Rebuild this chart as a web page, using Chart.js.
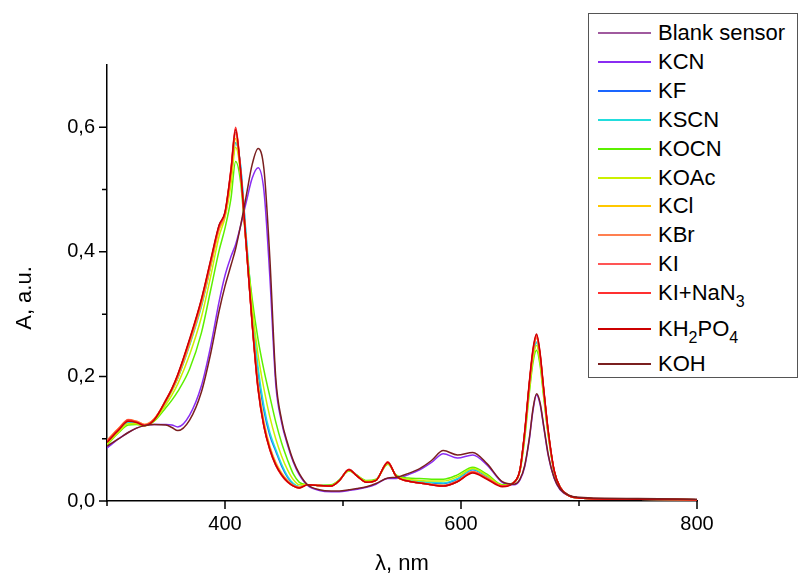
<!DOCTYPE html>
<html lang="en">
<head>
<meta charset="UTF-8">
<title>Absorption spectra</title>
<script src="https://cdn.jsdelivr.net/npm/chart.js"></script>
<style>
    body { margin: 0; background: #fff; }
    .janela { position: relative; width: 798px; height: 579px; }
    .legenda {
        position: absolute; left: 588px; top: 13px; width: 210px; height: 365px;
        border: 1px solid #555; box-sizing: border-box; background: #fff;
        font-family: "Liberation Sans", Arial, sans-serif; font-size: 22px; color: #000;
    }
    .linha { position: absolute; left: 0; width: 100%; height: 28px; line-height: 28px; }
    .amostra { position: absolute; left: 9px; top: 13px; width: 53px; height: 2px; }
    .nome { position: absolute; left: 69px; top: 0; white-space: nowrap; }
    .nome sub { font-size: 16px; vertical-align: -7px; line-height: 0; }
</style>
</head>
<body>
<div class="janela">
    <canvas id="myChart" width="798" height="579"></canvas>
    <div class="legenda" id="legenda"></div>
</div>

<script>
    // comprimentos de onda (nm)
    const wl = [300, 310, 318, 325, 332, 340, 350, 355, 360, 370,
        380, 388, 395, 400, 405, 409, 413, 418, 423, 428,
        433, 438, 443, 448, 453, 458, 463, 470, 480, 490,
        497, 505, 512, 520, 528, 538, 545, 555, 565, 575,
        585, 597, 610, 622, 635, 645, 650, 654, 658, 661,
        664, 667, 670, 674, 679, 684, 692, 700, 750, 800];

    const blankSensor = [.094, .114, .128, .126, .122, .131, .161, .179, .201, .256,
        .320, .383, .440, .461, .527, .592, .532, .410, .287, .183,
        .122, .085, .059, .043, .032, .025, .022, .026, .025, .024,
        .033, .050, .040, .030, .033, .062, .040, .032, .029, .026,
        .025, .032, .047, .037, .024, .030, .050, .109, .188, .238,
        .262, .233, .178, .109, .048, .022, .008, .005, .003, .002];

    const kcn = [.085, .100, .110, .117, .121, .123, .123, .122, .119, .138,
        .185, .250, .320, .362, .392, .412, .440, .480, .518, .535,
        .498, .360, .188, .126, .090, .062, .042, .025, .017, .015,
        .015, .017, .019, .022, .027, .036, .036, .042, .050, .062,
        .076, .069, .074, .058, .030, .026, .034, .055, .100, .145,
        .170, .155, .120, .072, .036, .018, .008, .005, .003, .002];

    const kf = [.093, .113, .127, .126, .122, .130, .160, .178, .198, .252,
        .315, .380, .442, .462, .520, .575, .540, .420, .300, .205,
        .145, .105, .080, .056, .038, .027, .023, .026, .025, .025,
        .034, .050, .041, .031, .034, .061, .041, .034, .031, .029,
        .028, .035, .050, .039, .025, .030, .050, .108, .185, .232,
        .255, .228, .175, .108, .047, .022, .008, .005, .003, .002];

    const kscn = [.092, .112, .126, .126, .122, .130, .159, .177, .197, .250,
        .312, .378, .440, .460, .518, .575, .542, .425, .310, .215,
        .152, .110, .083, .059, .040, .028, .023, .026, .025, .025,
        .034, .050, .041, .031, .034, .061, .041, .034, .031, .030,
        .029, .036, .051, .040, .025, .030, .050, .108, .185, .232,
        .255, .228, .175, .108, .047, .022, .008, .005, .003, .002];

    const kocn = [.090, .110, .122, .123, .121, .128, .150, .162, .176, .212,
        .270, .340, .402, .438, .485, .545, .515, .410, .325, .260,
        .210, .168, .127, .093, .066, .043, .030, .026, .025, .026,
        .034, .048, .041, .033, .035, .059, .042, .037, .036, .035,
        .035, .042, .054, .043, .026, .030, .048, .100, .175, .222,
        .242, .218, .168, .104, .046, .022, .008, .005, .003, .002];

    const koac = [.091, .111, .124, .124, .121, .129, .155, .170, .188, .235,
        .295, .362, .425, .455, .508, .568, .530, .415, .312, .235,
        .180, .135, .100, .072, .050, .034, .026, .026, .025, .025,
        .034, .049, .041, .032, .034, .060, .041, .035, .033, .032,
        .032, .039, .052, .041, .025, .030, .049, .105, .180, .228,
        .250, .224, .172, .106, .047, .022, .008, .005, .003, .002];

    const kcl = [.097, .117, .130, .128, .123, .132, .160, .177, .198, .252,
        .315, .378, .435, .458, .520, .582, .530, .410, .290, .190,
        .128, .088, .062, .045, .033, .025, .022, .026, .025, .024,
        .033, .050, .040, .030, .033, .062, .040, .032, .029, .027,
        .025, .032, .047, .037, .024, .030, .050, .110, .188, .238,
        .262, .232, .178, .109, .048, .022, .008, .005, .003, .002];

    const kbr = [.097, .117, .131, .128, .123, .132, .161, .179, .200, .255,
        .318, .382, .438, .460, .525, .590, .532, .410, .287, .184,
        .123, .085, .060, .043, .032, .025, .022, .026, .025, .024,
        .033, .050, .040, .030, .033, .062, .040, .032, .029, .026,
        .025, .032, .047, .037, .024, .030, .050, .110, .189, .239,
        .263, .234, .179, .110, .048, .022, .008, .005, .003, .002];

    const ki = [.095, .115, .129, .127, .122, .131, .162, .180, .202, .258,
        .322, .385, .440, .462, .530, .598, .535, .410, .285, .180,
        .120, .083, .058, .042, .031, .024, .021, .026, .025, .024,
        .033, .050, .040, .030, .033, .062, .040, .032, .029, .026,
        .024, .031, .046, .036, .024, .030, .050, .110, .190, .240,
        .265, .235, .180, .110, .048, .022, .008, .005, .003, .002];

    const kiNaN3 = [.096, .116, .130, .127, .122, .131, .163, .181, .203, .259,
        .323, .387, .442, .463, .532, .600, .536, .410, .284, .179,
        .119, .082, .057, .041, .030, .024, .021, .026, .025, .024,
        .033, .051, .040, .030, .033, .063, .040, .032, .029, .026,
        .024, .031, .046, .036, .024, .030, .050, .111, .191, .242,
        .267, .237, .181, .111, .048, .022, .008, .005, .003, .002];

    const kh2po4 = [.094, .114, .128, .126, .121, .130, .162, .180, .203, .260,
        .324, .388, .443, .464, .530, .596, .535, .412, .286, .181,
        .120, .083, .058, .042, .031, .024, .021, .026, .025, .024,
        .033, .050, .040, .030, .033, .062, .040, .032, .029, .026,
        .024, .031, .045, .035, .023, .030, .051, .112, .193, .244,
        .268, .238, .182, .112, .049, .022, .008, .005, .003, .002];

    const koh = [.088, .100, .110, .117, .121, .123, .122, .118, .113, .130,
        .175, .238, .305, .345, .378, .405, .440, .490, .540, .566,
        .533, .390, .198, .130, .093, .064, .044, .026, .018, .016,
        .016, .018, .020, .023, .028, .037, .038, .044, .052, .065,
        .081, .074, .078, .060, .031, .027, .035, .057, .102, .148,
        .172, .158, .122, .074, .037, .019, .009, .006, .004, .003];

    const nomes = ['Blank sensor', 'KCN', 'KF', 'KSCN', 'KOCN', 'KOAc', 'KCl', 'KBr', 'KI', 'KI+NaN3', 'KH2PO4', 'KOH'];
    const series = [blankSensor, kcn, kf, kscn, kocn, koac, kcl, kbr, ki, kiNaN3, kh2po4, koh];
    const cores = ['#a05a9e', '#8a2cf2', '#1a66ff', '#22dddd', '#5cf000', '#ccf000', '#ffc800',
        '#ff7f50', '#ff5555', '#ff3030', '#cc0000', '#7a1f1f'];

    // ticks
    const xMajor = [400, 600, 800];
    const xMinor = [300, 500, 700];
    const yMajor = [0, 0.2, 0.4, 0.6];
    const yMinor = [0.1, 0.3, 0.5];

    Chart.defaults.font.family = '"Liberation Sans", Arial, sans-serif';
    Chart.defaults.color = '#000';

    // legenda em HTML (caixa por cima do gráfico)
    const legenda = document.getElementById('legenda');
    let centro = 33;
    for (let i = 0; i < nomes.length; i++) {
        const linha = document.createElement('div');
        linha.className = 'linha';
        linha.style.top = (centro - 14 - 14) + 'px';
        linha.innerHTML = '<span class="amostra" style="background:' + cores[i] + '"></span>' +
            '<span class="nome">' + nomes[i].replace(/(\d)/g, '<sub>$1</sub>') + '</span>';
        legenda.appendChild(linha);
        centro += /\d/.test(nomes[i]) ? 35.5 : 28.9;
    }

    // marcas dos eixos (maiores e menores) + título do eixo Y
    const marcasEixos = {
        id: 'marcasEixos',
        afterDraw(chart) {
            const ctx = chart.ctx;
            const sx = chart.scales.x, sy = chart.scales.y;
            const area = chart.chartArea;
            ctx.save();
            ctx.strokeStyle = '#000';
            ctx.lineWidth = 1.5;
            ctx.beginPath();
            xMajor.forEach(v => { const p = sx.getPixelForValue(v); ctx.moveTo(p, area.bottom); ctx.lineTo(p, area.bottom + 8); });
            xMinor.forEach(v => { const p = sx.getPixelForValue(v); ctx.moveTo(p, area.bottom); ctx.lineTo(p, area.bottom + 5); });
            yMajor.forEach(v => { const p = sy.getPixelForValue(v); ctx.moveTo(area.left, p); ctx.lineTo(area.left - 8, p); });
            yMinor.forEach(v => { const p = sy.getPixelForValue(v); ctx.moveTo(area.left, p); ctx.lineTo(area.left - 5, p); });
            ctx.stroke();

            ctx.translate(31, 298);
            ctx.rotate(-Math.PI / 2);
            ctx.fillStyle = '#000';
            ctx.font = '22px "Liberation Sans", Arial, sans-serif';
            ctx.textAlign = 'center';
            ctx.textBaseline = 'alphabetic';
            ctx.fillText('A, a.u.', 0, 0);
            ctx.restore();
        }
    };

    const datasets = series.map((valores, i) => ({
        label: nomes[i],
        data: wl.map((x, j) => ({ x: x, y: valores[j] })),
        borderColor: cores[i],
        borderWidth: 1.5,
        pointRadius: 0,
        fill: false,
        cubicInterpolationMode: 'monotone',
        order: series.length - i
    }));

    const config = {
        type: 'line',
        data: { datasets: datasets },
        options: {
            responsive: false,
            animation: false,
            devicePixelRatio: 1,
            layout: { padding: { top: 65, right: 101, left: 0, bottom: 0 } },
            plugins: { legend: { display: false }, tooltip: { enabled: false } },
            scales: {
                x: {
                    type: 'linear',
                    min: 300,
                    max: 800,
                    afterFit: s => { s.height = 78; },
                    grid: { display: false, drawTicks: false },
                    border: { display: true, color: '#000', width: 1.5 },
                    ticks: {
                        stepSize: 100,
                        autoSkip: false,
                        maxRotation: 0,
                        padding: 11,
                        font: { size: 20 },
                        callback: v => xMajor.includes(v) ? String(v) : ''
                    },
                    title: { display: true, text: 'λ, nm', font: { size: 22 }, padding: { top: 0, bottom: 2 } }
                },
                y: {
                    min: 0,
                    max: 0.7,
                    afterFit: s => { s.width = 107; },
                    grid: { display: false, drawTicks: false },
                    border: { display: true, color: '#000', width: 1.5 },
                    ticks: {
                        stepSize: 0.1,
                        padding: 12,
                        font: { size: 20 },
                        callback: v => (Math.round(v * 10) % 2 === 0 && v < 0.65) ? v.toFixed(1).replace('.', ',') : ''
                    }
                }
            }
        },
        plugins: [marcasEixos]
    };

    let myChart = new Chart(document.getElementById('myChart'), config);
</script>
</body>
</html>
